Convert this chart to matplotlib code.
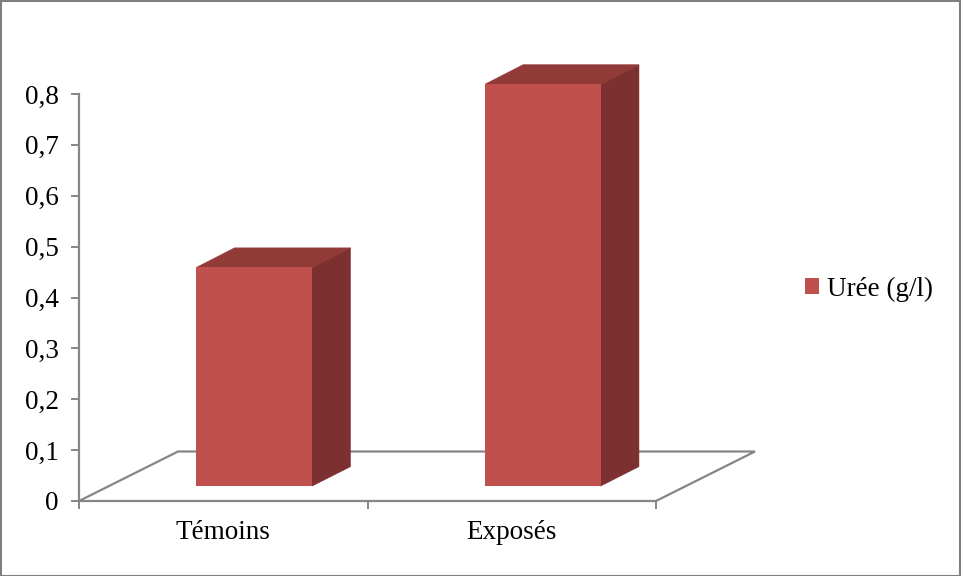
import matplotlib
matplotlib.use("Agg")
import matplotlib.pyplot as plt
from matplotlib.patches import Polygon, Patch, Rectangle

# Data
categories = ["Témoins", "Exposés"]
uree = [0.43, 0.79]
series_name = "Urée (g/l)"
y_ticks = [0, 0.1, 0.2, 0.3, 0.4, 0.5, 0.6, 0.7, 0.8]
y_tick_labels = ["0", "0,1", "0,2", "0,3", "0,4", "0,5", "0,6", "0,7", "0,8"]

# Colours
front_col = "#C0504D"
top_col = "#923A38"
side_col = "#7C302F"
axis_col = "#868686"

plt.rcParams["font.family"] = ["Liberation Serif", "DejaVu Serif"]
FS = 19.5

W, H = 961, 576
fig = plt.figure(figsize=(W / 100, H / 100), dpi=100)
fig.patch.set_facecolor("white")

# Axes covering the front plane of the 3-D chart
ax_l, ax_r, ax_b, ax_t = 79, 656, 501, 94
ax = fig.add_axes([ax_l / W, (H - ax_b) / H, (ax_r - ax_l) / W, (ax_b - ax_t) / H])
ax.set_xlim(0, len(categories))
ax.set_ylim(0, 0.8)

px_x = len(categories) / (ax_r - ax_l)   # data units per pixel (x)
px_y = 0.8 / (ax_b - ax_t)               # data units per pixel (y)

# Oblique depth of the floor and of the bars
floor_dx, floor_dy = 99 * px_x, 49.5 * px_y
front_frac = 0.30
bar_dx, bar_dy = 38 * px_x, 19.5 * px_y
bar_w = 116 * px_x

# Floor outline
n = len(categories)
floor = [(0, 0), (floor_dx, floor_dy), (n + floor_dx, floor_dy), (n, 0)]
ax.plot([p[0] for p in floor], [p[1] for p in floor], color=axis_col, lw=1.6,
        clip_on=False, zorder=1, solid_joinstyle="miter")

# 3-D bars: side and top faces as polygons, front face with ax.bar on top
off_x, off_y = front_frac * floor_dx + 1.5 * px_x, front_frac * floor_dy
xs = [i + 0.5 - bar_w / 2 + off_x for i in range(n)]
for x0, v in zip(xs, uree):
    y_top = off_y + v
    top = [(x0, y_top), (x0 + bar_w, y_top),
           (x0 + bar_w + bar_dx, y_top + bar_dy), (x0 + bar_dx, y_top + bar_dy)]
    side = [(x0 + bar_w - 0.5 * px_x, off_y), (x0 + bar_w + bar_dx, off_y + bar_dy),
            (x0 + bar_w + bar_dx, y_top + bar_dy), (x0 + bar_w - 0.5 * px_x, y_top)]
    ax.add_patch(Polygon(side, closed=True, facecolor=side_col, edgecolor=side_col,
                         lw=0.4, zorder=3, clip_on=False))
    ax.add_patch(Polygon(top, closed=True, facecolor=top_col, edgecolor=top_col,
                         lw=0.4, zorder=3, clip_on=False))
ax.bar(xs, uree, width=bar_w, bottom=off_y, align="edge", color=front_col,
       edgecolor="none", zorder=4, clip_on=False)

# Axes styling
for s in ("top", "right"):
    ax.spines[s].set_visible(False)
for s in ("left", "bottom"):
    ax.spines[s].set_color(axis_col)
    ax.spines[s].set_linewidth(1.6)
    ax.spines[s].set_zorder(2)

ax.set_yticks(y_ticks)
ax.set_yticklabels(y_tick_labels, fontsize=FS)
ax.tick_params(axis="y", length=5.5, width=1.4, color=axis_col, pad=9, direction="out")

ax.set_xticks(list(range(n + 1)))
ax.set_xticklabels([""] * (n + 1))
ax.set_xticks([i + 0.5 for i in range(n)], minor=True)
ax.set_xticklabels(categories, minor=True, fontsize=FS)
ax.tick_params(axis="x", which="major", length=6, width=1.4, color=axis_col, direction="out")
ax.tick_params(axis="x", which="minor", length=0, pad=14)
ax.set_facecolor("none")

# Legend
fig.legend(handles=[Patch(facecolor=front_col, edgecolor="none", label=series_name)],
           loc="center left", bbox_to_anchor=(805 / W, 1 - 289 / H), frameon=False,
           fontsize=FS, handlelength=0.5, handleheight=0.5, handletextpad=0.3,
           borderpad=0, borderaxespad=0)

# Outer frame
fig.add_artist(Rectangle((0.5 / W, 0.5 / H), 1 - 1.5 / W, 1 - 1.5 / H,
                         transform=fig.transFigure, fill=False,
                         edgecolor="#7F7F7F", lw=1.5))

fig.savefig("out.png", dpi=100)
